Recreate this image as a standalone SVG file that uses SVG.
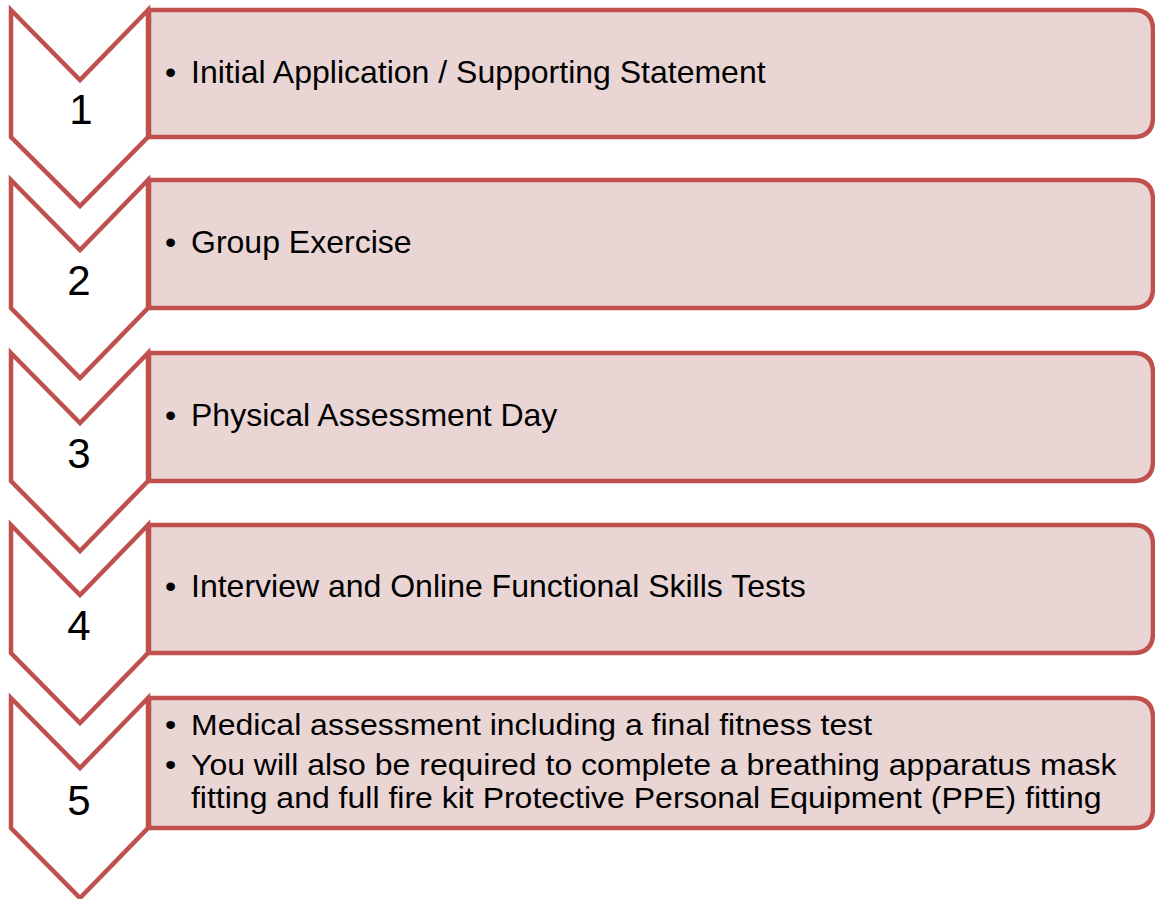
<svg xmlns="http://www.w3.org/2000/svg" width="1155" height="899" viewBox="0 0 1155 899">
<style>
.chev{fill:#FFFFFF;stroke:#C0504D;stroke-width:4.5;stroke-linejoin:miter}
.box{fill:#EAD5D5;stroke:#C0504D;stroke-width:4.5}
.num{font-family:"Liberation Sans",Arial,sans-serif;font-size:42px;fill:#000;text-anchor:middle}
.txt{font-family:"Liberation Sans",Arial,sans-serif;font-size:32px;fill:#000}
</style>
<rect width="1155" height="899" fill="#FFFFFF"/>
<g id="step1">
<path class="chev" d="M11,10 L80,80 L148,10 L148,137 L80,206 L11,137 Z"/>
<path class="box" d="M149,10 H1133 Q1153,10 1153,30 V117 Q1153,137 1133,137 H149 Z"/>
<text class="num" x="81" y="124">1</text>
<text class="txt" x="165" y="83">•</text>
<text class="txt" x="191" y="83">Initial Application / Supporting Statement</text>
</g>
<g id="step2">
<path class="chev" d="M11,180 L80,250 L148,180 L148,308 L80,378 L11,308 Z"/>
<path class="box" d="M149,180 H1133 Q1153,180 1153,200 V288 Q1153,308 1133,308 H149 Z"/>
<text class="num" x="79" y="295">2</text>
<text class="txt" x="165" y="253">•</text>
<text class="txt" x="191" y="253">Group Exercise</text>
</g>
<g id="step3">
<path class="chev" d="M11,353 L80,423 L148,353 L148,481 L80,551 L11,481 Z"/>
<path class="box" d="M149,353 H1133 Q1153,353 1153,373 V461 Q1153,481 1133,481 H149 Z"/>
<text class="num" x="79" y="468">3</text>
<text class="txt" x="165" y="426">•</text>
<text class="txt" x="191" y="426">Physical Assessment Day</text>
</g>
<g id="step4">
<path class="chev" d="M11,525 L80,595 L148,525 L148,653 L80,723 L11,653 Z"/>
<path class="box" d="M149,525 H1133 Q1153,525 1153,545 V633 Q1153,653 1133,653 H149 Z"/>
<text class="num" x="79" y="640">4</text>
<text class="txt" x="165" y="597">•</text>
<text class="txt" x="191" y="597">Interview and Online Functional Skills Tests</text>
</g>
<g id="step5">
<path class="chev" d="M11,698 L80,768 L148,698 L148,828 L80,898 L11,828 Z"/>
<path class="box" d="M149,698 H1133 Q1153,698 1153,718 V808 Q1153,828 1133,828 H149 Z"/>
<text class="num" x="79" y="815">5</text>
<g transform="translate(0,735) scale(1,0.9) translate(0,-735)">
<text class="txt" x="165" y="735">•</text>
<text class="txt" x="191" y="735">Medical assessment including a final fitness test</text>
<text class="txt" x="165" y="779">•</text>
<text class="txt" x="191" y="779">You will also be required to complete a breathing apparatus mask</text>
<text class="txt" x="191" y="816">fitting and full fire kit Protective Personal Equipment (PPE) fitting</text>
</g>
</g>
<g id="connectors"/>
</svg>
